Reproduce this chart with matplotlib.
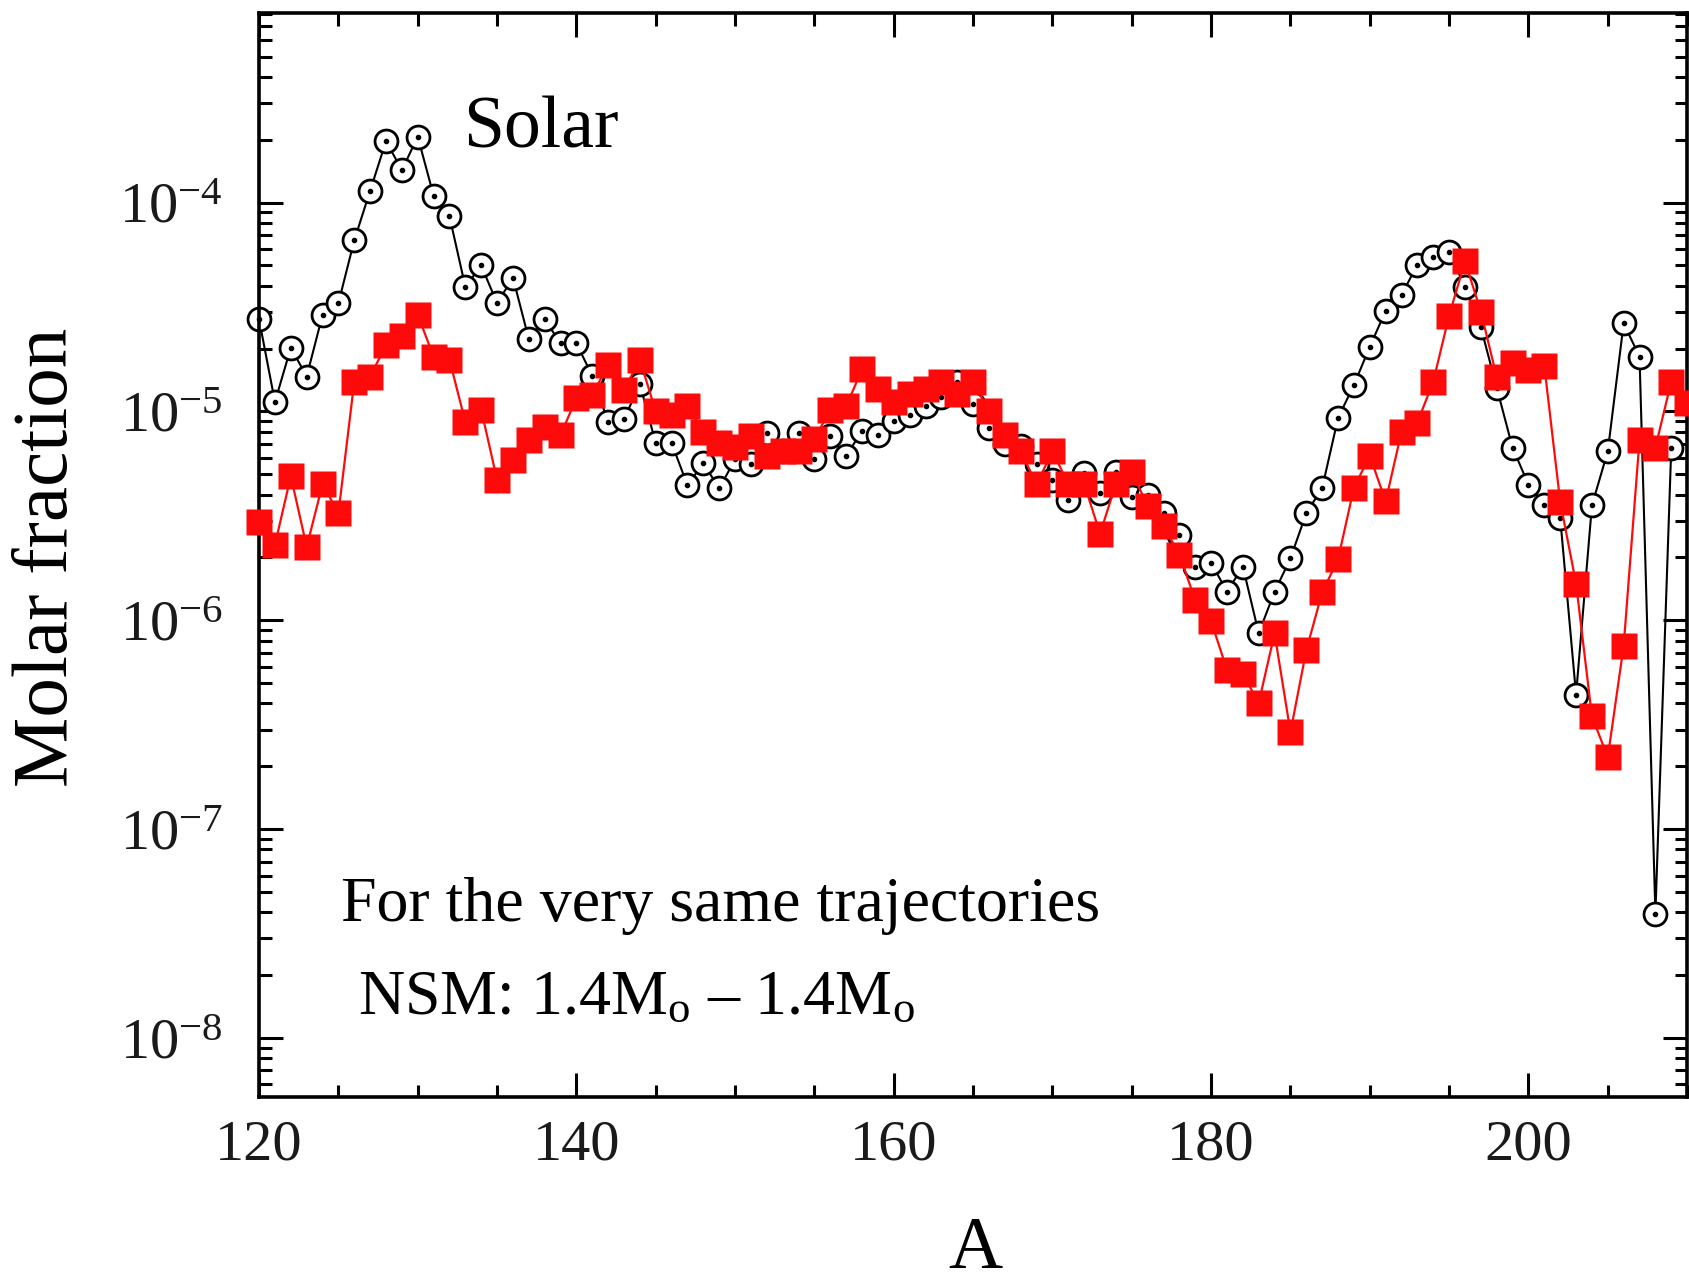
import matplotlib
matplotlib.use('Agg')
import matplotlib.pyplot as plt
from matplotlib.ticker import MultipleLocator, LogLocator, NullFormatter

# mass numbers
mass_solar = list(range(120, 210))
mass_nsm = list(range(120, 211))

# solar r-process abundances (molar fraction)
solar = [2.76e-5, 1.11e-5, 2.02e-5, 1.47e-5, 2.9e-5, 3.3e-5, 6.6e-5, 1.14e-4, 1.97e-4, 1.43e-4,
         2.07e-4, 1.08e-4, 8.6e-5, 3.95e-5, 5.0e-5, 3.3e-5, 4.37e-5, 2.22e-5, 2.76e-5, 2.12e-5,
         2.12e-5, 1.48e-5, 8.9e-6, 9.2e-6, 1.35e-5, 7.05e-6, 7.05e-6, 4.43e-6, 5.65e-6, 4.28e-6,
         5.9e-6, 5.6e-6, 7.85e-6, 6.5e-6, 7.9e-6, 5.9e-6, 7.6e-6, 6.1e-6, 8.1e-6, 7.75e-6,
         9.0e-6, 9.6e-6, 1.06e-5, 1.17e-5, 1.38e-5, 1.09e-5, 8.3e-6, 7.0e-6, 6.8e-6, 5.6e-6,
         4.7e-6, 3.75e-6, 5.05e-6, 4.05e-6, 5.15e-6, 3.9e-6, 3.98e-6, 3.27e-6, 2.57e-6, 1.81e-6,
         1.89e-6, 1.37e-6, 1.81e-6, 8.67e-7, 1.37e-6, 1.98e-6, 3.26e-6, 4.3e-6, 9.3e-6, 1.34e-5,
         2.04e-5, 3.03e-5, 3.61e-5, 5.05e-5, 5.46e-5, 5.79e-5, 3.95e-5, 2.53e-5, 1.3e-5, 6.7e-6,
         4.47e-6, 3.58e-6, 3.1e-6, 4.4e-7, 3.55e-6, 6.45e-6, 2.64e-5, 1.83e-5, 3.94e-8, 6.7e-6]

# NSM 1.4 - 1.4 Msun yields
nsm = [2.97e-6, 2.3e-6, 4.9e-6, 2.25e-6, 4.48e-6, 3.26e-6, 1.39e-5, 1.47e-5, 2.08e-5, 2.3e-5,
       2.9e-5, 1.83e-5, 1.77e-5, 8.9e-6, 1.02e-5, 4.7e-6, 5.86e-6, 7.3e-6, 8.45e-6, 7.7e-6,
       1.16e-5, 1.2e-5, 1.67e-5, 1.27e-5, 1.77e-5, 1.0e-5, 9.6e-6, 1.06e-5, 8.0e-6, 7.05e-6,
       6.75e-6, 7.66e-6, 6.14e-6, 6.47e-6, 6.47e-6, 7.38e-6, 1.02e-5, 1.06e-5, 1.59e-5, 1.28e-5,
       1.11e-5, 1.21e-5, 1.28e-5, 1.38e-5, 1.21e-5, 1.38e-5, 1.01e-5, 7.7e-6, 6.45e-6, 4.48e-6,
       6.45e-6, 4.5e-6, 4.5e-6, 2.6e-6, 4.5e-6, 5.12e-6, 3.54e-6, 2.83e-6, 2.06e-6, 1.25e-6,
       9.9e-7, 5.8e-7, 5.52e-7, 4.03e-7, 8.65e-7, 2.92e-7, 7.2e-7, 1.36e-6, 1.96e-6, 4.31e-6,
       6.14e-6, 3.71e-6, 8.0e-6, 8.85e-6, 1.39e-5, 2.88e-5, 5.23e-5, 3.01e-5, 1.46e-5, 1.7e-5,
       1.58e-5, 1.65e-5, 3.7e-6, 1.5e-6, 3.47e-7, 2.21e-7, 7.55e-7, 7.33e-6, 6.72e-6, 1.39e-5,
       1.1e-5]

plt.rcParams['font.family'] = ['Liberation Serif', 'DejaVu Serif']
plt.rcParams['mathtext.fontset'] = 'custom'
plt.rcParams['mathtext.rm'] = 'Liberation Serif'
plt.rcParams['mathtext.it'] = 'Liberation Serif:italic'
plt.rcParams['mathtext.bf'] = 'Liberation Serif:bold'

fig = plt.figure(figsize=(16.9, 12.85), dpi=100)
ax = fig.add_axes([0.1533, 0.1463, 0.845, 0.8436])

# solar: open circles with a dot in the middle
ax.plot(mass_solar, solar, '-', color='k', lw=1.5, marker='o', ms=16.5,
        mfc='white', mec='k', mew=2.0, clip_on=False, zorder=2)
ax.plot(mass_solar, solar, ls='none', marker='o', ms=3, color='k',
        clip_on=False, zorder=2.1)
# NSM: filled red squares
ax.plot(mass_nsm, nsm, '-', color='#ff0a0a', lw=1.6, marker='s', ms=19,
        mec='none', clip_on=False, zorder=3)

ax.set_yscale('log')
ax.set_xlim(120, 210)
ax.set_ylim(5.22e-9, 8.09e-4)

ax.xaxis.set_major_locator(MultipleLocator(20))
ax.xaxis.set_minor_locator(MultipleLocator(5))
ax.yaxis.set_major_locator(LogLocator(base=10, numticks=20))
ax.yaxis.set_minor_locator(LogLocator(base=10, subs=range(2, 10), numticks=20))
ax.yaxis.set_minor_formatter(NullFormatter())

ax.tick_params(which='both', direction='in', top=True, right=True, width=2.2,
               labelsize=42, labelcolor='#1a1a1a')
ax.tick_params(which='major', length=17)
ax.tick_params(which='minor', length=9)
ax.tick_params(axis='x', pad=16)
ax.tick_params(axis='y', pad=26)
for s in ax.spines.values():
    s.set_linewidth(2.6)

fig.text(0.2743, 0.8851, 'Solar', fontsize=53, va='baseline')
fig.text(0.2015, 0.2829, 'For the very same trajectories', fontsize=46, va='baseline')
fig.text(0.2118, 0.2109, 'NSM: 1.4M$_\\mathregular{o}$ \u2013 1.4M$_\\mathregular{o}$',
         fontsize=46, va='baseline')
fig.text(975 / 1690, 1 - 1268 / 1285, 'A', fontsize=54, ha='center', va='baseline')
fig.text(48.5 / 1690, 0.566, 'Molar fraction', fontsize=57, rotation=90,
         ha='center', va='center')

fig.savefig('out.png', dpi=100)
